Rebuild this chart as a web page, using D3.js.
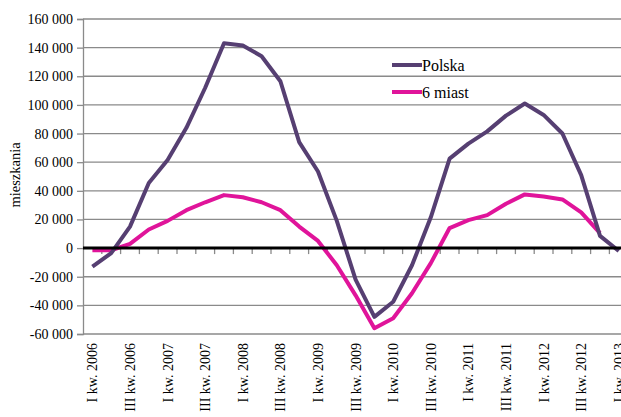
<!DOCTYPE html>
<html>
<head>
<meta charset="utf-8" />
<title>mieszkania</title>
<script src="https://d3js.org/d3.v7.min.js"></script>
<style>
  body { margin: 0; background: #fff; }
  text { font-family: "Liberation Serif", "Times New Roman", serif; fill: #000; }
</style>
</head>
<body>
<svg id="chart" width="621" height="417"></svg>
<script>

var quarters = [];
var years = [2006, 2007, 2008, 2009, 2010, 2011, 2012, 2013];
var romans = ["I", "II", "III", "IV"];
years.forEach(function(y) {
  romans.forEach(function(r) {
    if (y < 2013 || r == "I") quarters.push(r + " kw. " + y);
  });
});

var polska = [-13000, -3500, 15000, 45500, 61500, 84000, 112000, 143000,
  141500, 134000, 116500, 74000, 53500, 19000, -22000, -48000,
  -37500, -12000, 21500, 62500, 73000, 81500, 92500, 101000,
  93000, 80000, 51000, 8500, -2000];

var miast6 = [-1500, -1500, 3000, 13000, 19000, 26500, 32000, 37000,
  35500, 32000, 26500, 15000, 5000, -12000, -33000, -56000,
  -49000, -31500, -10500, 14000, 19500, 23000, 31000, 37500,
  36000, 34000, 25000, 10500, null];

var yTicks = [-60000, -40000, -20000, 0, 20000, 40000, 60000, 80000, 100000, 120000, 140000, 160000];

var svg = d3.select("#chart");
var plotLeft = 83, plotTop = 19, plotBottom = 334;
var step = 18.8;

var x = d3.scaleBand()
  .domain(quarters)
  .range([plotLeft, plotLeft + step * quarters.length]);

var y = d3.scaleLinear()
  .domain([-60000, 160000])
  .range([plotBottom, plotTop]);

var fmt = function(v) {
  return d3.format(",")(v).replace(/,/g, " ").replace("−", "-");
};

// gridlines
svg.append("g").selectAll("line")
  .data(yTicks.filter(function(v) { return v != 0; }))
  .enter().append("line")
  .attr("x1", plotLeft).attr("x2", 621)
  .attr("y1", function(d) { return y(d); })
  .attr("y2", function(d) { return y(d); })
  .attr("stroke", "#8a8a8a")
  .attr("stroke-width", 1.3);

// y axis
var yAxis = svg.append("g")
  .attr("transform", "translate(" + plotLeft + ",0)")
  .call(d3.axisLeft(y).tickValues(yTicks).tickSize(6).tickPadding(4).tickFormat(fmt));
yAxis.select(".domain").attr("stroke", "#8a8a8a").attr("stroke-width", 1.3);
yAxis.selectAll(".tick line").attr("stroke", "#8a8a8a").attr("stroke-width", 1.3);
yAxis.selectAll("text")
  .attr("font-family", "Liberation Serif")
  .style("font-family", "Liberation Serif")
  .style("font-size", "14px")
  .attr("fill", "#000");

svg.append("text")
  .attr("transform", "translate(20,175) rotate(-90)")
  .attr("text-anchor", "middle")
  .style("font-size", "14.5px")
  .text("mieszkania");

// category ticks on the zero line
svg.append("g").selectAll("line")
  .data(quarters.slice(1))
  .enter().append("line")
  .attr("x1", function(d) { return x(d); })
  .attr("x2", function(d) { return x(d); })
  .attr("y1", y(0)).attr("y2", y(0) + 6)
  .attr("stroke", "#8a8a8a")
  .attr("stroke-width", 1.3);

// x labels
svg.append("g").selectAll("text")
  .data(quarters.filter(function(d, i) { return i % 2 == 0; }))
  .enter().append("text")
  .attr("transform", function(d) {
    return "translate(" + (x(d) + x.bandwidth() / 2 + 5) + ",343) rotate(-90)";
  })
  .attr("text-anchor", "end")
  .style("font-size", "14px")
  .text(function(d) { return d; });

// series
var line = d3.line()
  .defined(function(d) { return d != null; })
  .x(function(d, i) { return x(quarters[i]) + x.bandwidth() / 2; })
  .y(function(d) { return y(d); });

svg.append("path")
  .datum(miast6)
  .attr("d", line)
  .attr("fill", "none")
  .attr("stroke", "#e0149a")
  .attr("stroke-width", 4)
  .attr("stroke-linejoin", "round");

svg.append("path")
  .datum(polska)
  .attr("d", line)
  .attr("fill", "none")
  .attr("stroke", "#563f72")
  .attr("stroke-width", 4)
  .attr("stroke-linejoin", "round");

// zero line
svg.append("line")
  .attr("x1", plotLeft).attr("x2", 621)
  .attr("y1", y(0)).attr("y2", y(0))
  .attr("stroke", "#000")
  .attr("stroke-width", 3);

// legend
var legend = [["Polska", "#563f72"], ["6 miast", "#e0149a"]];
var lg = svg.append("g").selectAll("g")
  .data(legend)
  .enter().append("g")
  .attr("transform", function(d, i) { return "translate(392," + (65 + i * 27) + ")"; });
lg.append("line")
  .attr("x1", 0).attr("x2", 30)
  .attr("stroke", function(d) { return d[1]; })
  .attr("stroke-width", 4);
lg.append("text")
  .attr("x", 30).attr("y", 5.5)
  .style("font-size", "16px")
  .text(function(d) { return d[0]; });

</script>
</body>
</html>
